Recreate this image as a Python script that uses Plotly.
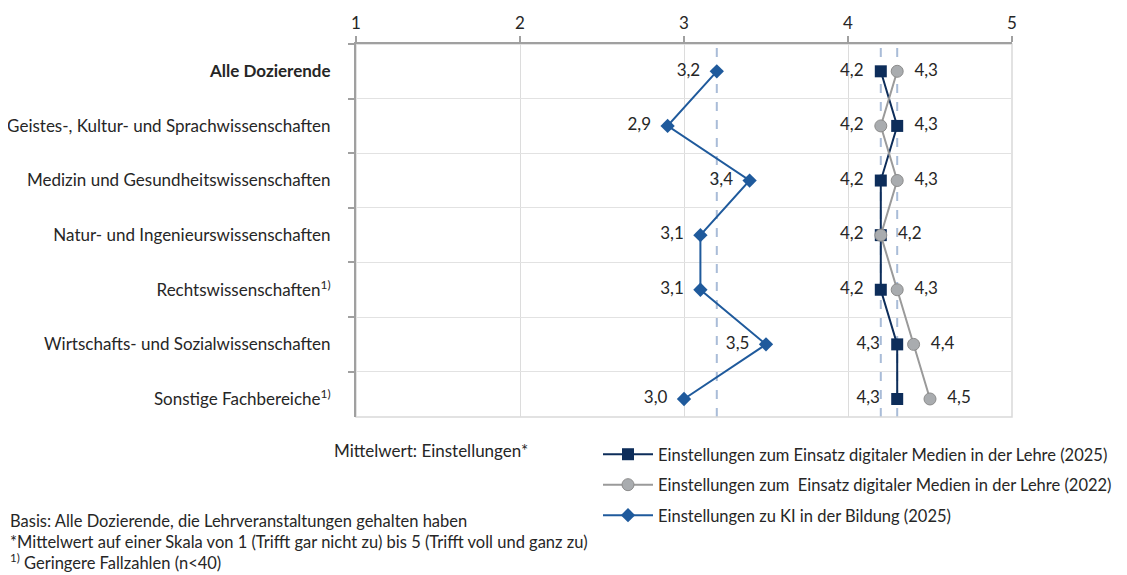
import plotly.graph_objects as go

categories = [
    "<b>Alle Dozierende</b>",
    "Geistes-, Kultur- und Sprachwissenschaften",
    "Medizin und Gesundheitswissenschaften",
    "Natur- und Ingenieurswissenschaften",
    "Rechtswissenschaften<sup>1)</sup>",
    "Wirtschafts- und Sozialwissenschaften",
    "Sonstige Fachbereiche<sup>1)</sup>",
]
medien_2025 = [4.2, 4.3, 4.2, 4.2, 4.2, 4.3, 4.3]
medien_2022 = [4.3, 4.2, 4.3, 4.2, 4.3, 4.4, 4.5]
ki_2025 = [3.2, 2.9, 3.4, 3.1, 3.1, 3.5, 3.0]
x_ticks = [1, 2, 3, 4, 5]

name_2025 = "Einstellungen zum Einsatz digitaler Medien in der Lehre (2025)"
name_2022 = "Einstellungen zum  Einsatz digitaler Medien in der Lehre (2022)"
name_ki = "Einstellungen zu KI in der Bildung (2025)"

FONT = "Lato"
FS = 17
TXT = "#262626"
NB = "\u00a0"


def fmt(v, pos):
    s = f"{v:.1f}".replace(".", ",")
    return s + NB * 2 if pos == "middle left" else NB * 2 + s


pos_ki = ["middle left"] * len(ki_2025)
pos_2025 = ["middle right" if a > b else "middle left" for a, b in zip(medien_2025, medien_2022)]
pos_2022 = ["middle left" if a > b else "middle right" for a, b in zip(medien_2025, medien_2022)]

fig = go.Figure()

fig.add_trace(go.Scatter(
    x=ki_2025, y=categories, name=name_ki, mode="lines+markers+text",
    line=dict(color="#1f5a9c", width=2),
    marker=dict(symbol="diamond", size=11, color="#1f5a9c"),
    text=[fmt(v, p) for v, p in zip(ki_2025, pos_ki)], textposition=pos_ki,
    textfont=dict(family=FONT, size=FS, color=TXT),
    cliponaxis=False, legendrank=3, legendgroup="c",
))
fig.add_trace(go.Scatter(
    x=medien_2025, y=categories, name=name_2025, mode="lines+markers+text",
    line=dict(color="#0d2d5a", width=2),
    marker=dict(symbol="square", size=12, color="#0d2d5a"),
    text=[fmt(v, p) for v, p in zip(medien_2025, pos_2025)], textposition=pos_2025,
    textfont=dict(family=FONT, size=FS, color=TXT),
    cliponaxis=False, legendrank=1, legendgroup="a",
))
fig.add_trace(go.Scatter(
    x=medien_2022, y=categories, name=name_2022, mode="lines+markers+text",
    line=dict(color="#9a9a9a", width=2),
    marker=dict(symbol="circle", size=12, color="#a9acaf", line=dict(color="#8c8c8c", width=1)),
    text=[fmt(v, p) for v, p in zip(medien_2022, pos_2022)], textposition=pos_2022,
    textfont=dict(family=FONT, size=FS, color=TXT),
    cliponaxis=False, legendrank=2, legendgroup="b",
))

# reference lines at the "Alle Dozierende" values
for v in [ki_2025[0], medien_2025[0], medien_2022[0]]:
    fig.add_shape(type="line", xref="x", yref="paper", x0=v, x1=v, y0=0, y1=1,
                  line=dict(color="#a9bcd8", width=2, dash="dash"), layer="below")

fig.add_shape(type="rect", xref="paper", yref="paper", x0=0, x1=1, y0=0, y1=1,
              line=dict(color="#d9d9d9", width=1.5), layer="below")

fig.update_xaxes(
    side="top", range=[1, 5], tickvals=x_ticks, ticktext=[str(t) for t in x_ticks],
    ticks="outside", ticklen=6, tickcolor="#a0a0a0", tickwidth=2,
    showline=True, linecolor="#a0a0a0", linewidth=2,
    showgrid=True, gridcolor="#dcdcdc", gridwidth=1, zeroline=False,
    tickfont=dict(family=FONT, size=FS, color=TXT), fixedrange=True, automargin=False,
)
fig.update_yaxes(
    type="category", categoryorder="array", categoryarray=categories,
    range=[6.33, -0.5], tickson="boundaries",
    ticks="outside", ticklen=6, tickcolor="#a0a0a0", tickwidth=2,
    showline=True, linecolor="#a0a0a0", linewidth=2,
    showgrid=True, gridcolor="#e2e2e2", gridwidth=1, zeroline=False,
    ticklabelstandoff=20, automargin=False,
    tickfont=dict(family=FONT, size=FS, color=TXT), fixedrange=True,
)

# reference-pixel helpers (plot area: x 356..1012, y 44..417)
def px(X):
    return (X - 356) / 656


def py(Y):
    return (417 - Y) / 373


fig.add_annotation(text="Mittelwert: Einstellungen*", xref="paper", yref="paper",
                   x=px(332), y=py(450), xanchor="left", yanchor="middle",
                   showarrow=False, font=dict(family=FONT, size=FS, color=TXT))
foot = [
    "Basis: Alle Dozierende, die Lehrveranstaltungen gehalten haben",
    "*Mittelwert auf einer Skala von 1 (Trifft gar nicht zu) bis 5 (Trifft voll und ganz zu)",
    "<sup>1)</sup> Geringere Fallzahlen (n&lt;40)",
]
foot_y = [521, 542, 562]
for t, yy in zip(foot, foot_y):
    fig.add_annotation(text=t, xref="paper", yref="paper",
                       x=px(8), y=py(yy),
                       xanchor="left", yanchor="middle", showarrow=False,
                       font=dict(family=FONT, size=16.5, color=TXT))

fig.update_layout(
    width=1119, height=567,
    margin=dict(l=348, r=115, t=36, b=158, autoexpand=False),
    paper_bgcolor="white", plot_bgcolor="white",
    font=dict(family=FONT, size=FS, color=TXT),
    showlegend=True,
    legend=dict(x=px(598), y=py(437), xanchor="left", yanchor="top",
                orientation="v", tracegroupgap=6, itemwidth=50,
                font=dict(family=FONT, size=16.5, color=TXT), bgcolor="rgba(0,0,0,0)"),
)

fig.write_html("out.html")
